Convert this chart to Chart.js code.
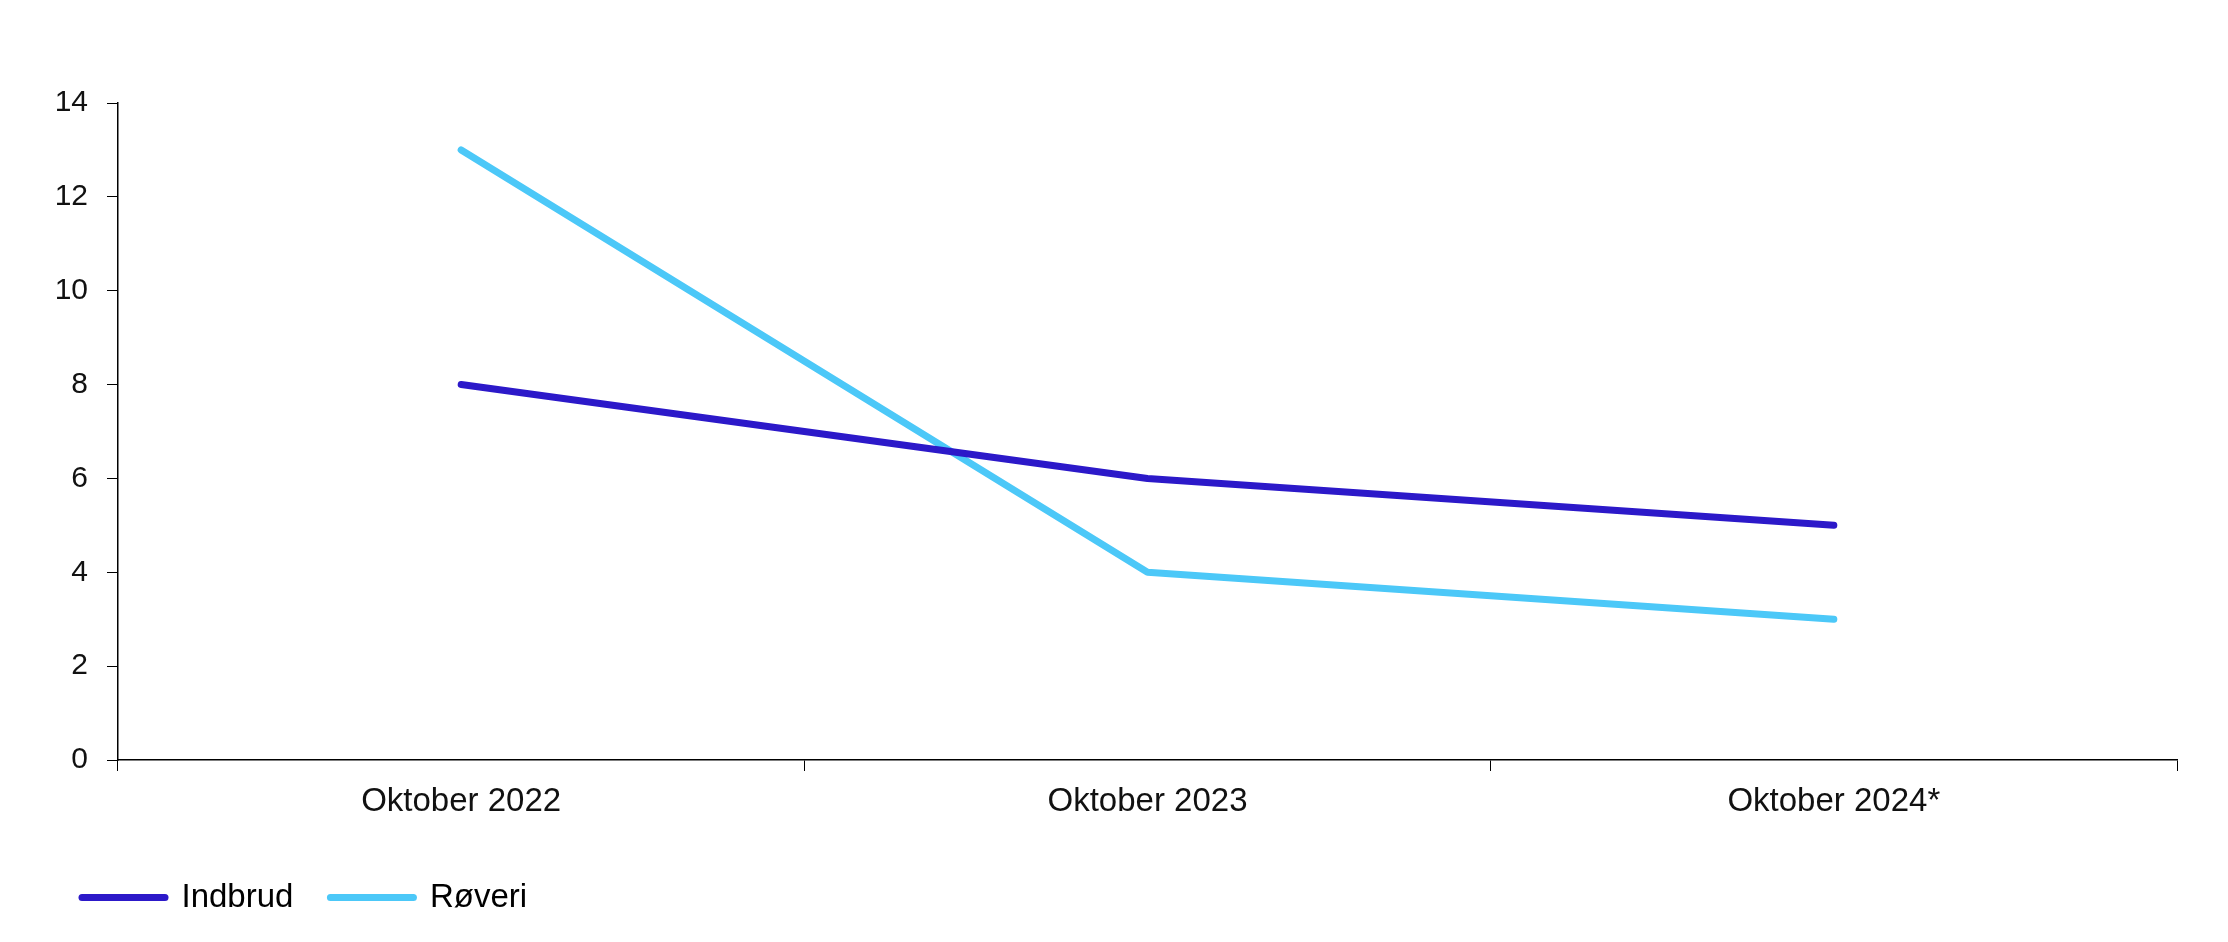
<!DOCTYPE html>
<html lang="da">
<head>
  <meta charset="UTF-8" />
  <title>Indbrud og røveri</title>
  <script src="https://cdn.jsdelivr.net/npm/chart.js"></script>
  <style>
    html, body {
      margin: 0;
      padding: 0;
      background: #ffffff;
      overflow: hidden;
    }
    #chart {
      display: block;
    }
  </style>
</head>
<body>
  <canvas id="chart" width="2228" height="949"></canvas>

  <script>
    // Data
    const labels = ['Oktober 2022', 'Oktober 2023', 'Oktober 2024*'];
    const indbrud = [8, 6, 5];
    const roeveri = [13, 4, 3];
    const yTicks = [0, 2, 4, 6, 8, 10, 12, 14];

    const fontFamily = "'Liberation Sans', Arial, sans-serif";
    const textColor = '#111111';

    const ctx = document.getElementById('chart').getContext('2d');

    new Chart(ctx, {
      type: 'line',
      data: {
        labels: labels,
        datasets: [
          {
            label: 'Indbrud',
            data: indbrud,
            borderColor: '#2c19c9',
            backgroundColor: '#2c19c9',
            borderWidth: 7,
            borderCapStyle: 'round',
            borderJoinStyle: 'round',
            pointRadius: 0,
            tension: 0
          },
          {
            label: 'Røveri',
            data: roeveri,
            borderColor: '#4cc8f8',
            backgroundColor: '#4cc8f8',
            borderWidth: 7,
            borderCapStyle: 'round',
            borderJoinStyle: 'round',
            pointRadius: 0,
            tension: 0
          }
        ]
      },
      options: {
        responsive: false,
        animation: false,
        layout: {
          padding: { top: 103, right: 51, bottom: 25, left: 45 }
        },
        plugins: {
          tooltip: { enabled: false },
          legend: {
            position: 'bottom',
            align: 'start',
            labels: {
              color: textColor,
              font: { family: fontFamily, size: 33 },
              usePointStyle: true,
              pointStyleWidth: 83,
              padding: 37,
              generateLabels: (chart) => chart.data.datasets.map((ds, i) => ({
                text: ds.label,
                fillStyle: ds.borderColor,
                strokeStyle: ds.borderColor,
                lineWidth: 7,
                lineCap: 'round',
                pointStyle: 'line',
                hidden: !chart.isDatasetVisible(i),
                datasetIndex: i
              }))
            }
          }
        },
        scales: {
          x: {
            offset: true,
            afterFit: (scale) => { scale.height = 84; },
            grid: {
              offset: true,
              drawOnChartArea: false,
              drawTicks: true,
              tickLength: 11,
              color: '#000',
              lineWidth: 1
            },
            border: { display: true, color: '#000', width: 1.5 },
            ticks: {
              color: textColor,
              font: { family: fontFamily, size: 33 },
              padding: 11,
              maxRotation: 0
            }
          },
          y: {
            min: 0,
            max: 14,
            afterFit: (scale) => { scale.width = 73; },
            afterBuildTicks: (scale) => {
              scale.ticks = yTicks.map(v => ({ value: v }));
            },
            grid: {
              drawOnChartArea: false,
              drawTicks: true,
              tickLength: 11,
              color: '#000',
              lineWidth: 1
            },
            border: { display: true, color: '#000', width: 1.5 },
            ticks: {
              color: textColor,
              font: { family: fontFamily, size: 30 },
              padding: 19
            }
          }
        }
      }
    });
  </script>
</body>
</html>
